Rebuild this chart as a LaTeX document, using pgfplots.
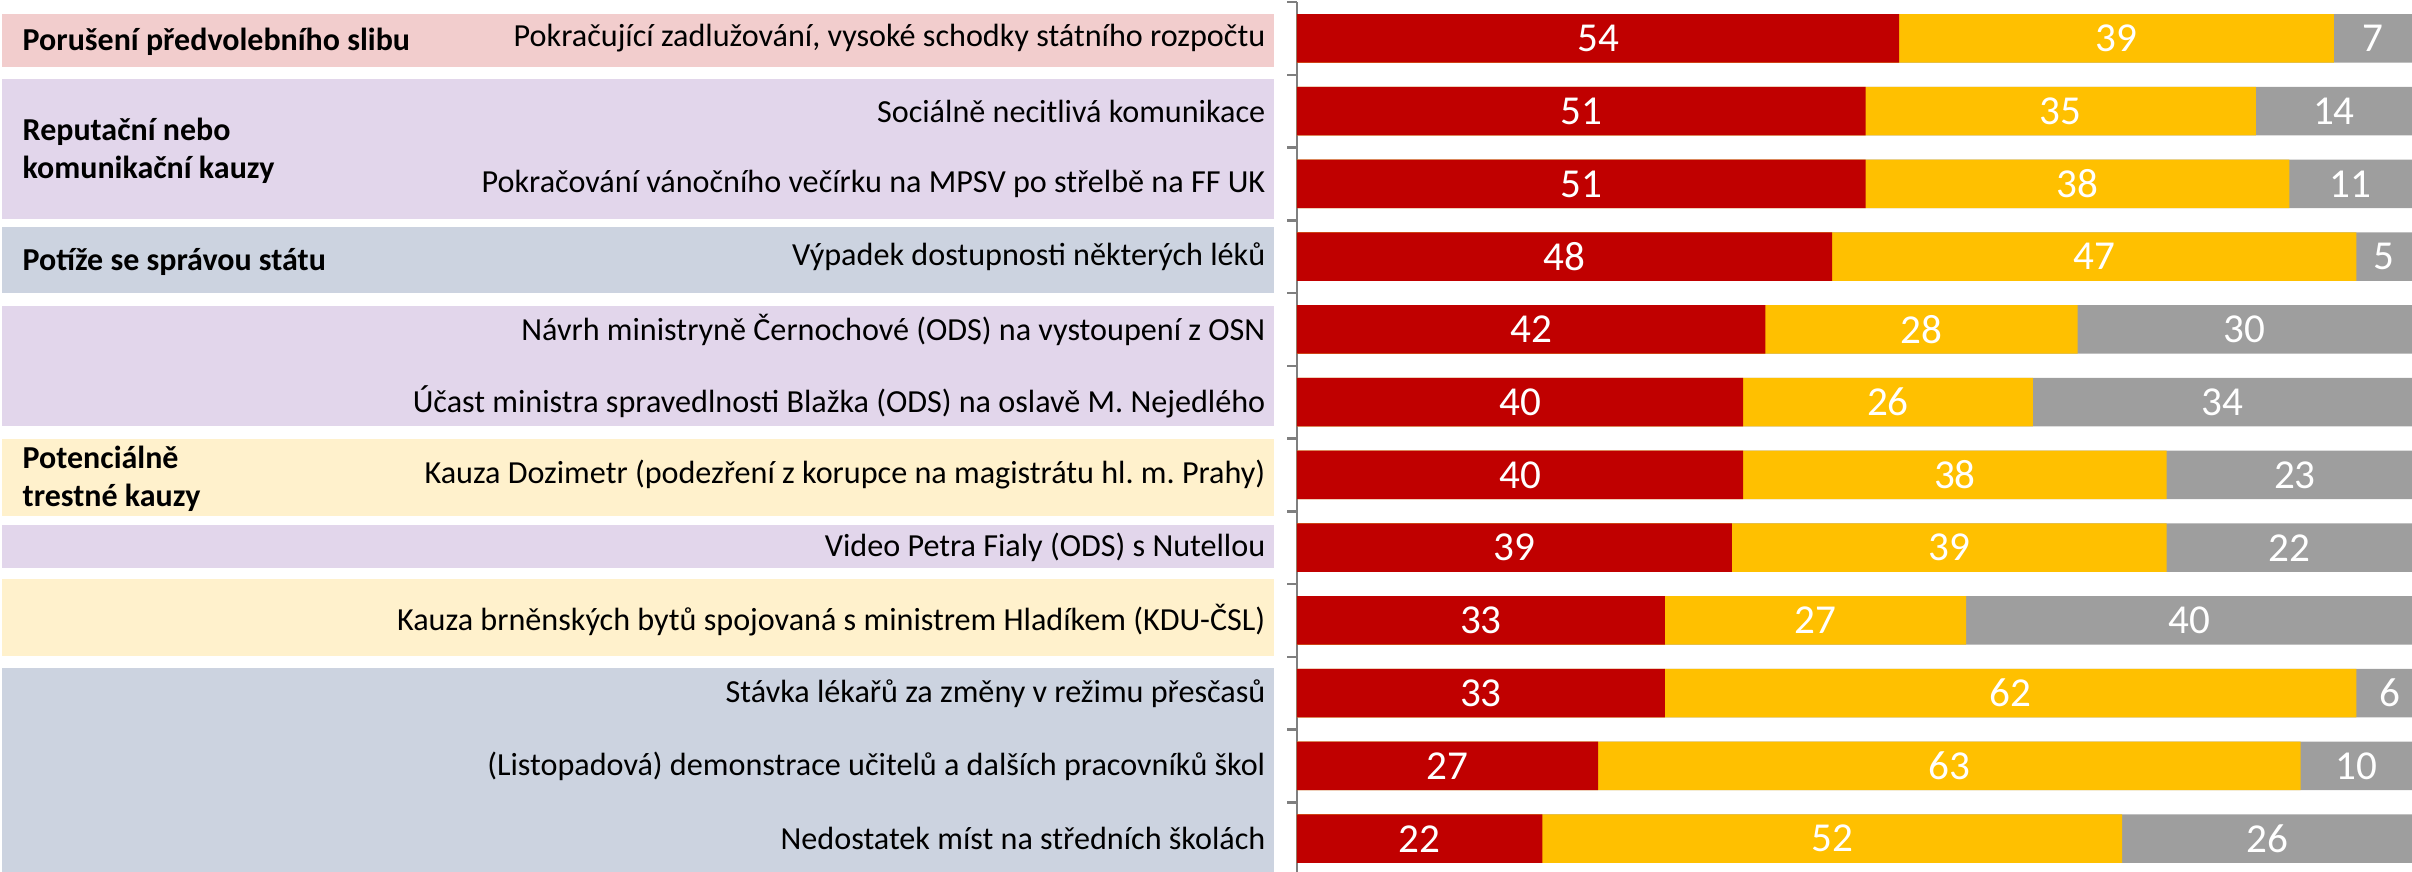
\documentclass[border=0pt]{standalone}
\usepackage{pgfplots}
\pgfplotsset{compat=1.18}
\usepackage{pgfplotstable}
\usepackage{fontspec}
\setmainfont{Carlito}
\frenchspacing
\definecolor{cred}{HTML}{C00000}
\definecolor{cyellow}{HTML}{FFC000}
\definecolor{cgray}{HTML}{9E9E9E}
\definecolor{axgray}{HTML}{7F7F7F}
\definecolor{bpink}{HTML}{F2CDCD}
\definecolor{blav}{HTML}{E2D6EB}
\definecolor{bblue}{HTML}{CCD3E0}
\definecolor{byel}{HTML}{FFF1CC}
\newcommand{\itemfont}{\fontsize{9.15}{10.8}\selectfont}
\newcommand{\groupfont}{\fontsize{9.1}{10.8}\selectfont\bfseries}
\newcommand{\numfont}{\fontsize{11.7}{14}\selectfont}

\pgfplotstableread{
row a b c
1 54 39 7
2 51 35 14
3 51 38 11
4 48 47 5
5 42 28 30
6 40 26 34
7 40 38 23
8 39 39 22
9 33 27 40
10 33 62 6
11 27 63 10
12 22 52 26
}\data

\begin{document}
\begin{tikzpicture}
\useasboundingbox (0,0) rectangle (24.12,8.72);
% background bands
\fill[bpink] (0.02,8.58) rectangle (12.74,8.053);
\fill[blav]  (0.02,7.93) rectangle (12.74,6.533);
\fill[bblue] (0.02,6.45) rectangle (12.74,5.793);
\fill[blav]  (0.02,5.66) rectangle (12.74,4.463);
\fill[byel]  (0.02,4.33) rectangle (12.74,3.563);
\fill[blav]  (0.02,3.47) rectangle (12.74,3.043);
\fill[byel]  (0.02,2.93) rectangle (12.74,2.163);
\fill[bblue] (0.02,2.043) rectangle (12.74,-0.05);
% group labels
\begin{scope}[every node/.style={anchor=west, align=left, inner sep=0pt, font=\groupfont}]
\node at (0.22,8.303) {Porušení předvolebního slibu};
\node at (0.22,7.21) {Reputační nebo\\komunikační kauzy};
\node at (0.22,6.103) {Potíže se správou státu};
\node at (0.22,3.93) {Potenciálně\\trestné kauzy};
\end{scope}
\begin{axis}[
  at={(12.97cm,-0.031cm)}, anchor=south west,
  scale only axis, width=11.15cm, height=8.73cm,
  xmin=0, xmax=100, ymin=0.5, ymax=12.5, y dir=reverse,
  axis x line=none, axis y line*=left,
  axis line style={draw=axgray, line width=0.7pt},
  ytick={1,...,12},
  yticklabels={
    {Pokračující zadlužování, vysoké schodky státního rozpočtu},
    {Sociálně necitlivá komunikace},
    {Pokračování vánočního večírku na MPSV po střelbě na FF UK},
    {Výpadek dostupnosti některých léků},
    {Návrh ministryně Černochové (ODS) na vystoupení z OSN},
    {Účast ministra spravedlnosti Blažka (ODS) na oslavě M. Nejedlého},
    {Kauza Dozimetr (podezření z korupce na magistrátu hl. m. Prahy)},
    {Video Petra Fialy (ODS) s Nutellou},
    {Kauza brněnských bytů spojovaná s ministrem Hladíkem (KDU-ČSL)},
    {Stávka lékařů za změny v režimu přesčasů},
    {(Listopadová) demonstrace učitelů a dalších pracovníků škol},
    {Nedostatek míst na středních školách}},
  yticklabel style={anchor=east, inner sep=0pt, xshift=-0.31cm, font=\itemfont, text=black},
  major tick length=0pt,
  minor ytick={0.5,1.5,...,12.5},
  minor tick length=0.096cm,
  tick align=outside,
  tick style={draw=axgray, line width=0.7pt},
  bar width=0.485cm,
  clip=true,
]
\addplot[xbar, bar shift=0pt, fill=cgray, draw=none] table[x expr=\thisrow{a}+\thisrow{b}+\thisrow{c}, y=row]{\data};
\addplot[xbar, bar shift=0pt, fill=cyellow, draw=none] table[x expr=\thisrow{a}+\thisrow{b}, y=row]{\data};
\addplot[xbar, bar shift=0pt, fill=cred, draw=none] table[x=a, y=row]{\data};
\addplot[draw=none, point meta=explicit symbolic, nodes near coords,
  nodes near coords style={anchor=center, text=white, font=\numfont, inner sep=0pt}]
  table[x expr=\thisrow{a}/2, y=row, meta=a]{\data};
\addplot[draw=none, point meta=explicit symbolic, nodes near coords,
  nodes near coords style={anchor=center, text=white, font=\numfont, inner sep=0pt}]
  table[x expr=\thisrow{a}+\thisrow{b}/2, y=row, meta=b]{\data};
\addplot[draw=none, point meta=explicit symbolic, nodes near coords,
  nodes near coords style={anchor=center, text=white, font=\numfont, inner sep=0pt}]
  table[x expr=\thisrow{a}+\thisrow{b}+\thisrow{c}/2, y=row, meta=c]{\data};
\end{axis}
\end{tikzpicture}
\end{document}
